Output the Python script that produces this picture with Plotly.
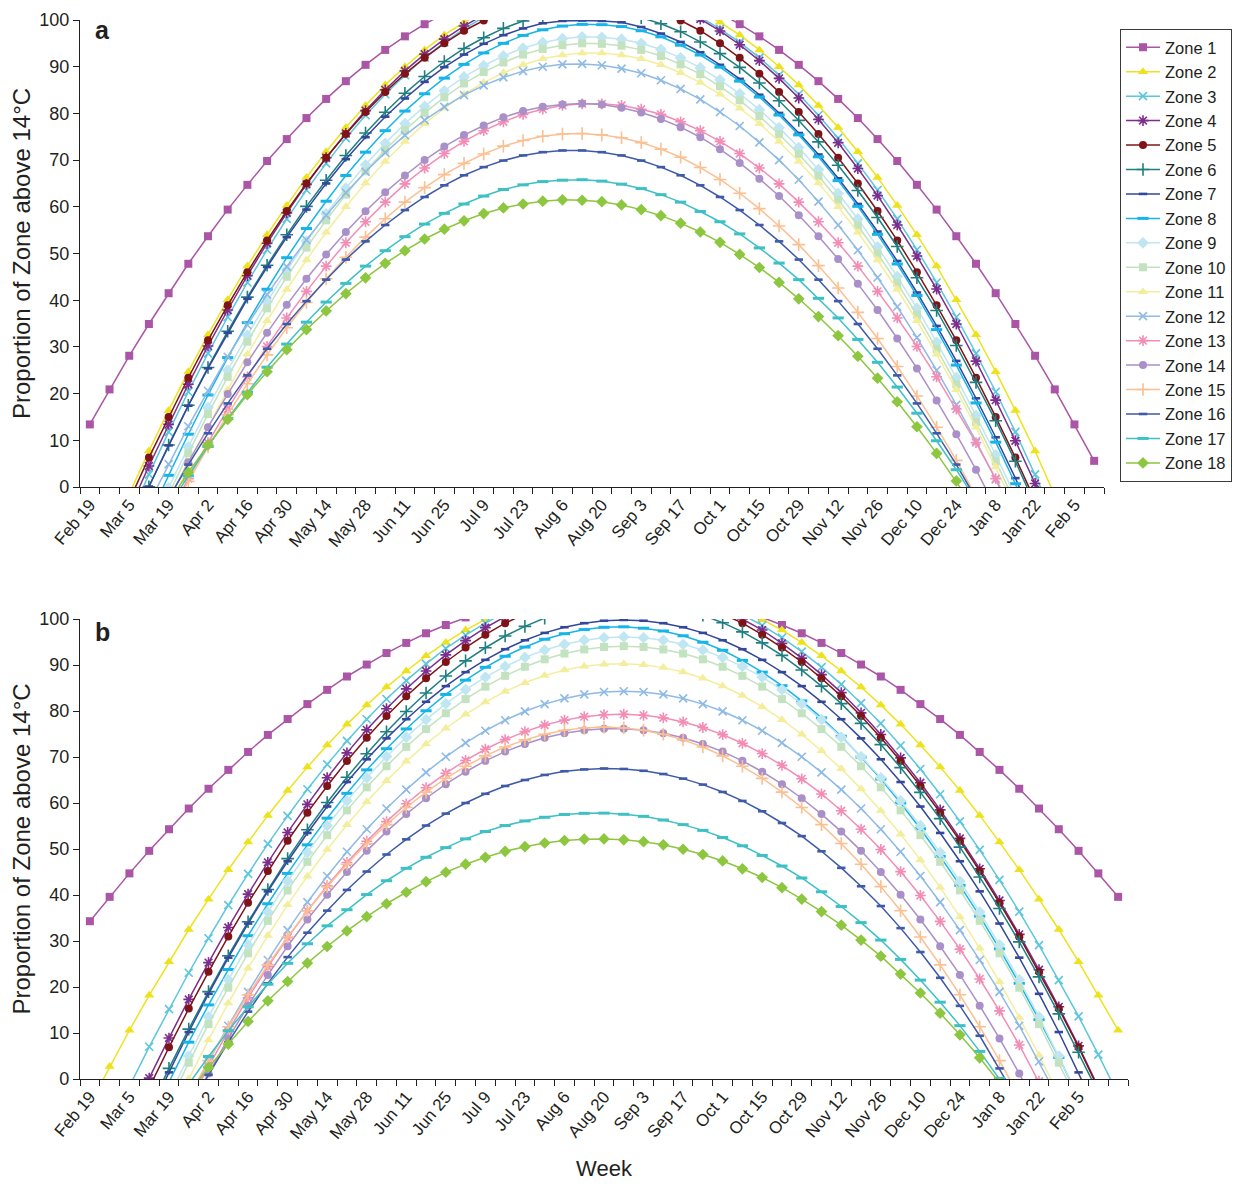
import plotly.graph_objects as go

WEEKS = ["Feb 19", "Feb 26", "Mar 5", "Mar 12", "Mar 19", "Mar 26", "Apr 2", "Apr 9", "Apr 16", "Apr 23",
         "Apr 30", "May 7", "May 14", "May 21", "May 28", "Jun 4", "Jun 11", "Jun 18", "Jun 25", "Jul 2",
         "Jul 9", "Jul 16", "Jul 23", "Jul 30", "Aug 6", "Aug 13", "Aug 20", "Aug 27", "Sep 3", "Sep 10",
         "Sep 17", "Sep 24", "Oct 1", "Oct 8", "Oct 15", "Oct 22", "Oct 29", "Nov 5", "Nov 12", "Nov 19",
         "Nov 26", "Dec 3", "Dec 10", "Dec 17", "Dec 24", "Jan 1", "Jan 8", "Jan 15", "Jan 22", "Jan 29",
         "Feb 5", "Feb 12", "Feb 19"]
TICK_LABELS = ["Feb 19", "Mar 5", "Mar 19", "Apr 2", "Apr 16", "Apr 30", "May 14", "May 28", "Jun 11",
               "Jun 25", "Jul 9", "Jul 23", "Aug 6", "Aug 20", "Sep 3", "Sep 17", "Oct 1", "Oct 15",
               "Oct 29", "Nov 12", "Nov 26", "Dec 10", "Dec 24", "Jan 8", "Jan 22", "Feb 5"]
ZONES = ["Zone 1", "Zone 2", "Zone 3", "Zone 4", "Zone 5", "Zone 6", "Zone 7", "Zone 8", "Zone 9",
         "Zone 10", "Zone 11", "Zone 12", "Zone 13", "Zone 14", "Zone 15", "Zone 16", "Zone 17", "Zone 18"]

N = None
# ---------------- Panel a (52 weeks) ----------------
A_Z1 = [13.4, 20.9, 28.1, 34.9, 41.5, 47.8, 53.7, 59.4, 64.7, 69.8, 74.5, 79.0, 83.1, 86.9, 90.4, 93.6, 96.5, 99.1,
        101.4, 103.4, 105.1, 106.5, 107.5, 108.3, 108.75, 108.9, 108.75, 108.3, 107.5, 106.5, 105.1, 103.4, 101.4,
        99.1, 96.5, 93.6, 90.4, 86.9, 83.1, 79.0, 74.5, 69.8, 64.7, 59.4, 53.7, 47.8, 41.5, 34.9, 28.1, 20.9, 13.4, 5.6]
A_Z2 = [-20.9, -11.0, -1.5, 7.7, 16.4, 24.7, 32.6, 40.1, 47.3, 54.0, 60.3, 66.3, 71.8, 77.0, 81.7, 86.1, 90.0, 93.6,
        96.8, 99.5, 101.9, 103.9, 105.5, 106.7, 107.45, 107.85, 107.85, 107.45, 106.7, 105.5, 103.9, 101.9, 99.5,
        96.8, 93.6, 90.0, 86.1, 81.7, 77.0, 71.8, 66.3, 60.3, 54.0, 47.3, 40.1, 32.6, 24.7, 16.4, 7.7, -1.5, -11.0, -20.9]
A_Z3 = [-26.9, -16.6, -6.7, 2.7, 11.8, 20.4, 28.6, 36.4, 43.8, 50.8, 57.4, 63.6, 69.3, 74.7, 79.6, 84.1, 88.2, 91.95,
        95.2, 98.1, 100.6, 102.6, 104.3, 105.5, 106.3, 106.75, 106.75, 106.3, 105.5, 104.3, 102.6, 100.6, 98.1, 95.2,
        91.95, 88.2, 84.1, 79.6, 74.7, 69.3, 63.6, 57.4, 50.8, 43.8, 36.4, 28.6, 20.4, 11.8, 2.7, -6.7, -16.6, -26.9]
A_Z4 = [-25.0, -14.7, -4.9, 4.5, 13.4, 22.0, 30.2, 37.9, 45.25, 52.2, 58.7, 64.8, 70.5, 75.7, 80.6, 85.05, 89.1, 92.7,
        95.9, 98.7, 101.1, 103.1, 104.7, 105.8, 106.55, 106.9, 106.8, 106.3, 105.4, 104.1, 102.35, 100.2, 97.65,
        94.7, 91.3, 87.5, 83.3, 78.7, 73.7, 68.2, 62.4, 56.1, 49.45, 42.4, 34.9, 26.95, 18.6, 9.9, 0.75, -8.8, -18.8, -29.2]
A_Z5 = [-22.5, -12.5, -2.9, 6.3, 15.0, 23.4, 31.4, 38.9, 46.0, 52.8, 59.1, 65.0, 70.5, 75.6, 80.3, 84.6, 88.5, 91.9,
        95.0, 97.7, 99.9, 101.7, 103.2, 104.2, 104.8, 105.0, 104.8, 104.2, 103.2, 101.7, 99.9, 97.7, 95.0, 91.9,
        88.5, 84.6, 80.3, 75.6, 70.5, 65.0, 59.1, 52.8, 46.0, 38.9, 31.4, 23.4, 15.0, 6.3, -2.9, -12.5, -22.5, -32.9]
A_Z6 = [-29.2, -19.05, -9.3, 0.06, 9.0, 17.5, 25.6, 33.35, 40.65, 47.5, 54.0, 60.1, 65.7, 71.0, 75.8, 80.25, 84.3,
        87.9, 91.1, 93.9, 96.2, 98.2, 99.8, 100.9, 101.65, 102.0, 101.9, 101.4, 100.5, 99.2, 97.5, 95.3, 92.8, 89.85,
        86.5, 82.7, 78.5, 73.9, 68.9, 63.5, 57.7, 51.5, 44.8, 37.8, 30.3, 22.4, 14.2, 5.5, -3.6, -13.15, -23.1, -33.4]
A_Z7 = [-28.95, -18.9, -9.2, 0.1, 8.9, 17.4, 25.4, 33.0, 40.3, 47.1, 53.5, 59.4, 65.0, 70.2, 74.9, 79.3, 83.2, 86.75,
        89.9, 92.6, 94.9, 96.75, 98.2, 99.3, 99.8, 99.9, 99.8, 99.5, 98.5, 97.1, 95.3, 93.1, 90.4, 87.4, 84.0, 80.1,
        75.8, 71.2, 66.1, 60.6, 54.7, 48.4, 41.65, 34.5, 27.0, 19.0, 10.65, 1.9, -7.3, -16.9, -26.9, -37.3]
A_Z8 = [-37.0, -26.5, -16.4, -6.8, 2.5, 11.3, 19.7, 27.7, 35.2, 42.35, 49.1, 55.35, 61.2, 66.7, 71.7, 76.3, 80.5, 84.2,
        87.55, 90.5, 92.95, 95.0, 96.7, 97.9, 98.7, 99.07, 99.0, 98.6, 97.7, 96.4, 94.6, 92.5, 89.9, 86.9, 83.5, 79.65,
        75.4, 70.7, 65.6, 60.1, 54.1, 47.75, 41.0, 33.7, 26.1, 18.0, 9.6, 0.7, -8.7, -18.4, -28.6, -39.2]
A_Z9 = [N, N, -19.1, -9.5, -0.2, 8.6, 17.0, 25.0, 32.5, 39.65, 46.4, 52.65, 58.5, 64.0, 69.0, 73.6, 77.8, 81.5, 84.85,
        87.8, 90.25, 92.3, 94.0, 95.2, 96.0, 96.4, 96.3, 95.9, 95.0, 93.7, 91.9, 89.8, 87.2, 84.2, 80.8, 76.95, 72.7,
        68.0, 62.9, 57.4, 51.4, 45.05, 38.3, 31.0, 23.4, 15.3, 6.9, -2.0, -11.4, N, N, N]
A_Z10 = [N, N, -20.5, -10.9, -1.6, 7.2, 15.6, 23.6, 31.1, 38.25, 45.0, 51.25, 57.1, 62.6, 67.6, 72.2, 76.4, 80.1, 83.45,
         86.4, 88.85, 90.9, 92.6, 93.8, 94.6, 95.0, 94.9, 94.5, 93.6, 92.3, 90.5, 88.4, 85.8, 82.8, 79.4, 75.55, 71.3,
         66.6, 61.5, 56.0, 50.0, 43.65, 36.9, 29.6, 22.0, 13.9, 5.5, -3.4, -12.8, N, N, N]
A_Z11 = [N, N, N, -13.8, -4.5, 4.3, 12.8, 20.8, 28.4, 35.6, 42.3, 48.6, 54.55, 60.0, 65.1, 69.7, 74.0, 77.8, 81.1, 84.1,
         86.6, 88.7, 90.4, 91.7, 92.5, 92.95, 92.95, 92.5, 91.7, 90.4, 88.7, 86.6, 84.1, 81.1, 77.8, 74.0, 69.7, 65.1,
         60.0, 54.55, 48.6, 42.3, 35.6, 28.4, 20.8, 12.8, 4.3, -4.5, -13.8, N, N, N]
A_Z12 = [-31.2, -21.6, -12.3, -3.5, 4.9, 13.0, 20.6, 27.9, 34.7, 41.2, 47.2, 52.9, 58.2, 63.0, 67.5, 71.6, 75.3, 78.55,
         81.4, 83.9, 86.0, 87.7, 89.05, 90.0, 90.5, 90.6, 90.3, 89.6, 88.6, 87.1, 85.25, 83.0, 80.3, 77.3, 73.8, 70.0,
         65.8, 61.1, 56.1, 50.7, 44.85, 38.6, 32.0, 25.0, 17.6, 9.8, 1.6, -7.0, -16.0, -25.4, -35.1, -45.3]
A_Z13 = [N, N, N, -14.6, -6.2, 1.8, 9.5, 16.7, 23.6, 30.1, 36.2, 41.9, 47.3, 52.3, 56.8, 61.0, 64.9, 68.3, 71.4, 74.0,
         76.3, 78.2, 79.8, 80.9, 81.7, 82.05, 82.05, 81.7, 80.9, 79.8, 78.2, 76.3, 74.0, 71.4, 68.3, 64.9, 61.0, 56.8,
         52.3, 47.3, 41.9, 36.2, 30.1, 23.6, 16.7, 9.5, 1.8, -6.2, -14.6, N, N, N]
A_Z14 = [N, N, N, -10.9, -2.6, 5.3, 12.8, 19.9, 26.7, 33.05, 39.0, 44.6, 49.8, 54.6, 59.05, 63.1, 66.7, 70.0, 72.9,
         75.35, 77.4, 79.15, 80.5, 81.4, 81.9, 82.1, 81.9, 81.2, 80.2, 78.8, 77.05, 74.9, 72.3, 69.4, 66.0, 62.3, 58.2,
         53.7, 48.8, 43.5, 37.9, 31.8, 25.4, 18.5, 11.3, 3.7, -4.3, -12.65, N, N, N, N]
A_Z15 = [N, N, N, N, -6.5, 1.2, 8.55, 15.5, 22.1, 28.3, 34.1, 39.5, 44.6, 49.2, 53.5, 57.45, 61.0, 64.1, 66.9, 69.3,
         71.3, 73.0, 74.2, 75.1, 75.6, 75.7, 75.4, 74.8, 73.75, 72.35, 70.6, 68.4, 65.85, 62.9, 59.6, 55.9, 51.9, 47.4,
         42.6, 37.4, 31.8, 25.8, 19.5, 12.8, 5.7, -1.8, -9.7, N, N, N, N, N]
A_Z16 = [N, N, N, -9.7, -2.3, 4.8, 11.5, 17.9, 23.9, 29.6, 34.9, 39.8, 44.4, 48.7, 52.6, 56.1, 59.3, 62.1, 64.6, 66.75,
         68.5, 69.9, 71.0, 71.7, 72.06, 72.06, 71.7, 71.0, 69.9, 68.5, 66.75, 64.6, 62.1, 59.3, 56.1, 52.6, 48.7, 44.4,
         39.8, 34.9, 29.6, 23.9, 17.9, 11.5, 4.8, -2.3, -9.7, N, N, N, N, N]
A_Z17 = [N, N, N, -11.2, -4.2, 2.4, 8.7, 14.7, 20.3, 25.65, 30.6, 35.3, 39.6, 43.6, 47.3, 50.6, 53.6, 56.3, 58.6, 60.6,
         62.3, 63.7, 64.7, 65.4, 65.7, 65.8, 65.5, 64.85, 63.9, 62.6, 61.0, 59.0, 56.8, 54.2, 51.2, 47.95, 44.4, 40.4,
         36.2, 31.6, 26.7, 21.4, 15.8, 9.9, 3.7, -2.9, -9.8, N, N, N, N, N]
A_Z18 = [N, N, N, -9.6, -3.1, 3.1, 9.0, 14.5, 19.8, 24.7, 29.4, 33.7, 37.7, 41.4, 44.8, 47.9, 50.6, 53.1, 55.2, 57.0,
         58.55, 59.75, 60.6, 61.2, 61.5, 61.4, 61.1, 60.4, 59.4, 58.1, 56.5, 54.6, 52.4, 49.8, 47.0, 43.8, 40.3, 36.5,
         32.4, 28.0, 23.3, 18.25, 12.9, 7.2, 1.3, -5.0, -11.6, N, N, N, N, N]

# ---------------- Panel b (53 weeks) ----------------
B_Z1 = [34.3, 39.6, 44.7, 49.6, 54.3, 58.8, 63.1, 67.2, 71.1, 74.8, 78.25, 81.5, 84.6, 87.5, 90.1, 92.6, 94.8, 96.9,
        98.7, 100.35, 101.8, 103.0, 104.0, 104.85, 105.5, 105.9, 106.07, 106.07, 105.9, 105.5, 104.85, 104.0, 103.0,
        101.8, 100.35, 98.7, 96.9, 94.8, 92.6, 90.1, 87.5, 84.6, 81.5, 78.25, 74.8, 71.1, 67.2, 63.1, 58.8, 54.3,
        49.6, 44.7, 39.6]
B_Z2 = [-5.5, 2.7, 10.6, 18.2, 25.5, 32.5, 39.1, 45.5, 51.5, 57.3, 62.7, 67.8, 72.6, 77.1, 81.3, 85.2, 88.7, 92.0, 94.9,
        97.6, 99.9, 101.9, 103.6, 105.0, 106.1, 106.9, 107.3, 107.5, 107.3, 106.9, 106.1, 105.0, 103.6, 101.9, 99.9,
        97.6, 94.9, 92.0, 88.7, 85.2, 81.3, 77.1, 72.6, 67.8, 62.7, 57.3, 51.5, 45.5, 39.1, 32.5, 25.5, 18.2, 10.6]
B_Z3 = [-19.9, -10.6, -1.6, 7.0, 15.2, 23.1, 30.6, 37.8, 44.6, 51.1, 57.2, 63.0, 68.4, 73.5, 78.2, 82.6, 86.6, 90.25,
        93.6, 96.5, 99.1, 101.4, 103.3, 104.8, 106.0, 106.9, 107.4, 107.5, 107.3, 106.7, 105.8, 104.5, 102.9, 100.95,
        98.6, 95.95, 92.9, 89.55, 85.8, 81.7, 77.3, 72.5, 67.4, 61.9, 56.0, 49.8, 43.3, 36.4, 29.1, 21.5, 13.6, 5.3, -3.4]
B_Z4 = [N, N, -8.9, 0.2, 8.9, 17.3, 25.3, 32.95, 40.2, 47.1, 53.6, 59.7, 65.5, 70.9, 75.9, 80.5, 84.8, 88.7, 92.2,
        95.3, 98.1, 100.5, 102.5, 104.2, 105.4, 106.3, 106.85, 107.0, 106.8, 106.2, 105.2, 103.9, 102.1, 100.0, 97.6,
        94.7, 91.5, 87.9, 84.0, 79.6, 74.9, 69.8, 64.4, 58.5, 52.3, 45.7, 38.8, 31.45, 23.75, 15.7, 7.2, -1.6, -10.8]
B_Z5 = [N, -20.6, -11.1, -1.9, 6.9, 15.3, 23.3, 31.0, 38.3, 45.2, 51.8, 57.9, 63.7, 69.15, 74.2, 78.9, 83.2, 87.1,
        90.65, 93.8, 96.6, 99.1, 101.1, 102.8, 104.1, 105.05, 105.6, 105.8, 105.6, 105.05, 104.1, 102.8, 101.1, 99.1,
        96.6, 93.8, 90.65, 87.1, 83.2, 78.9, 74.2, 69.15, 63.7, 57.9, 51.8, 45.2, 38.3, 31.0, 23.3, 15.3, 6.9, -1.9, -11.1]
B_Z6 = [N, N, -15.9, -6.6, 2.3, 10.85, 19.0, 26.8, 34.2, 41.2, 47.9, 54.2, 60.1, 65.6, 70.7, 75.5, 79.9, 83.9, 87.6,
        90.9, 93.75, 96.3, 98.4, 100.2, 101.6, 102.6, 103.2, 103.5, 103.4, 102.9, 102.0, 100.8, 99.2, 97.2, 94.8, 92.1,
        88.9, 85.4, 81.6, 77.3, 72.7, 67.7, 62.3, 56.6, 50.4, 43.9, 37.05, 29.8, 22.2, 14.15, 5.8, -3.0, -12.1]
B_Z7 = [N, N, N, -7.8, 1.44, 10.21, 18.52, 26.38, 33.8, 40.79, 47.34, 53.49, 59.23, 64.56, 69.5, 74.05, 78.21, 82.0,
        85.41, 88.45, 91.12, 93.43, 95.38, 96.98, 98.21, 99.09, 99.62, 99.8, 99.62, 99.09, 98.21, 96.98, 95.38, 93.43,
        91.12, 88.45, 85.41, 82.0, 78.21, 74.05, 69.5, 64.56, 59.23, 53.49, 47.34, 40.79, 33.8, 26.38, 18.52, 10.21,
        1.44, -7.8, N]
B_Z8 = [N, N, N, -9.3, -0.5, 8.0, 16.1, 23.8, 31.15, 38.1, 44.7, 50.9, 56.7, 62.1, 67.2, 71.8, 76.1, 80.05, 83.6, 86.7,
        89.5, 91.9, 93.9, 95.6, 96.8, 97.7, 98.2, 98.3, 98.0, 97.4, 96.35, 94.95, 93.2, 91.0, 88.45, 85.5, 82.2, 78.5,
        74.5, 70.0, 65.2, 60.0, 54.4, 48.4, 42.1, 35.4, 28.3, 20.8, 12.9, 4.7, -4.0, -13.0, N]
B_Z9 = [N, N, N, N, -4.01, 5.0, 13.52, 21.57, 29.15, 36.28, 42.98, 49.23, 55.07, 60.48, 65.49, 70.1, 74.32, 78.14,
        81.59, 84.66, 87.36, 89.69, 91.65, 93.26, 94.5, 95.39, 95.92, 96.1, 95.92, 95.39, 94.5, 93.26, 91.65, 89.69,
        87.36, 84.66, 81.59, 78.14, 74.32, 70.1, 65.49, 60.48, 55.07, 49.23, 42.98, 36.28, 29.15, 21.57, 13.52, 5.0,
        -4.01, N, N]
B_Z10 = [N, N, N, N, -5.27, 3.55, 11.93, 19.85, 27.33, 34.38, 41.0, 47.21, 53.0, 58.4, 63.4, 68.0, 72.22, 76.05,
         79.51, 82.59, 85.3, 87.64, 89.62, 91.24, 92.49, 93.38, 93.92, 94.1, 93.92, 93.38, 92.49, 91.24, 89.62, 87.64,
         85.3, 82.59, 79.51, 76.05, 72.22, 68.0, 63.4, 58.4, 53.0, 47.21, 41.0, 34.38, 27.33, 19.85, 11.93, 3.55,
         -5.27, N, N]
B_Z11 = [N, N, N, N, -8.97, 0.01, 8.5, 16.52, 24.08, 31.19, 37.86, 44.09, 49.9, 55.29, 60.28, 64.86, 69.05, 72.84,
         76.25, 79.29, 81.94, 84.23, 86.15, 87.7, 88.89, 89.72, 90.19, 90.29, 90.04, 89.43, 88.46, 87.12, 85.43, 83.36,
         80.93, 78.12, 74.93, 71.37, 67.42, 63.07, 58.33, 53.19, 47.63, 41.65, 35.24, 28.4, 21.12, 13.37, 5.17, -3.52,
         N, N, N]
B_Z12 = [N, N, N, N, N, -4.43, 3.8, 11.58, 18.93, 25.86, 32.35, 38.44, 44.12, 49.41, 54.3, 58.8, 62.92, 66.67, 70.05,
         73.06, 75.71, 78.0, 79.93, 81.5, 82.73, 83.6, 84.13, 84.3, 84.13, 83.6, 82.73, 81.5, 79.93, 78.0, 75.71, 73.06,
         70.05, 66.67, 62.92, 58.8, 54.3, 49.41, 44.12, 38.44, 32.35, 25.86, 18.93, 11.58, 3.8, -4.43, N, N, N]
B_Z13 = [N, N, N, N, N, -5.46, 2.73, 10.42, 17.63, 24.39, 30.7, 36.57, 42.02, 47.06, 51.7, 55.95, 59.83, 63.33, 66.47,
         69.25, 71.68, 73.77, 75.52, 76.94, 78.02, 78.77, 79.2, 79.29, 79.07, 78.51, 77.62, 76.41, 74.86, 72.98, 70.75,
         68.18, 65.26, 61.97, 58.32, 54.3, 49.89, 45.09, 39.89, 34.27, 28.23, 21.74, 14.8, 7.4, -0.49, -8.87, N, N, N]
B_Z14 = [N, N, N, N, N, -6.9, 1.19, 8.81, 15.95, 22.63, 28.87, 34.67, 40.05, 45.02, 49.6, 53.78, 57.59, 61.03, 64.09,
         66.8, 69.16, 71.17, 72.84, 74.17, 75.16, 75.83, 76.16, 76.16, 75.83, 75.16, 74.17, 72.84, 71.17, 69.16, 66.8,
         64.09, 61.03, 57.59, 53.78, 49.6, 45.02, 40.05, 34.67, 28.87, 22.63, 15.95, 8.81, 1.19, -6.9, N, N, N, N]
B_Z15 = [N, N, N, N, N, -3.82, 4.0, 11.36, 18.3, 24.8, 30.88, 36.56, 41.82, 46.7, 51.19, 55.29, 59.02, 62.37, 65.36,
         67.98, 70.25, 72.17, 73.73, 74.94, 75.81, 76.33, 76.5, 76.33, 75.81, 74.94, 73.73, 72.17, 70.25, 67.98, 65.36,
         62.37, 59.02, 55.29, 51.19, 46.7, 41.82, 36.56, 30.88, 24.8, 18.3, 11.36, 4.0, -3.82, N, N, N, N, N]
B_Z16 = [N, N, N, N, N, -6.8, 0.9, 8.0, 14.65, 20.8, 26.5, 31.8, 36.6, 41.1, 45.1, 48.8, 52.1, 55.1, 57.7, 60.0, 62.0,
         63.7, 65.0, 66.1, 66.9, 67.3, 67.5, 67.4, 67.0, 66.3, 65.3, 64.0, 62.4, 60.45, 58.2, 55.65, 52.8, 49.5, 45.9,
         41.9, 37.6, 32.8, 27.6, 22.0, 15.9, 9.4, 2.3, -5.2, N, N, N, N, N]
B_Z17 = [N, N, N, N, -7.4, -1.1, 4.9, 10.5, 15.7, 20.6, 25.15, 29.4, 33.3, 36.8, 40.1, 43.1, 45.8, 48.2, 50.3, 52.2,
         53.8, 55.1, 56.1, 56.9, 57.5, 57.75, 57.8, 57.55, 57.1, 56.3, 55.3, 54.05, 52.5, 50.7, 48.6, 46.3, 43.7, 40.7,
         37.5, 34.0, 30.2, 26.0, 21.5, 16.7, 11.6, 6.0, 0.15, -6.1, N, N, N, N, N]
B_Z18 = [N, N, N, N, N, -3.0, 2.5, 7.6, 12.5, 17.0, 21.2, 25.2, 28.8, 32.2, 35.3, 38.1, 40.6, 42.9, 44.95, 46.7, 48.2,
         49.5, 50.5, 51.3, 51.85, 52.14, 52.2, 52.0, 51.6, 50.9, 49.95, 48.8, 47.4, 45.7, 43.8, 41.6, 39.1, 36.4, 33.45,
         30.2, 26.7, 22.8, 18.7, 14.3, 9.6, 4.6, -0.8, N, N, N, N, N, N]

PANEL_A = [A_Z1, A_Z2, A_Z3, A_Z4, A_Z5, A_Z6, A_Z7, A_Z8, A_Z9, A_Z10, A_Z11, A_Z12, A_Z13, A_Z14, A_Z15, A_Z16,
           A_Z17, A_Z18]
PANEL_B = [B_Z1, B_Z2, B_Z3, B_Z4, B_Z5, B_Z6, B_Z7, B_Z8, B_Z9, B_Z10, B_Z11, B_Z12, B_Z13, B_Z14, B_Z15, B_Z16,
           B_Z17, B_Z18]
for k, s in enumerate(PANEL_A):
    assert len(s) == 52, ("A", k + 1, len(s))
for k, s in enumerate(PANEL_B):
    assert len(s) == 53, ("B", k + 1, len(s))

# ---------------- styles ----------------
STYLES = [
    dict(c="#AA55A5", s="square", z=8, w=0),
    dict(c="#EEE21E", s="triangle-up", z=9, w=0),
    dict(c="#5BC6DC", s="x-thin-open", z=8, w=1.6),
    dict(c="#7D2D8C", s="asterisk-open", z=9, w=1.6),
    dict(c="#7E1418", s="circle", z=8, w=0),
    dict(c="#1F7F80", s="cross-thin-open", z=9, w=1.6),
    dict(c="#33479B", s="line-ew-open", z=6, w=2.6),
    dict(c="#17B4E9", s="line-ew-open", z=8, w=3),
    dict(c="#BFE6F1", s="diamond", z=9, w=0),
    dict(c="#C3E2BF", s="square", z=8, w=0),
    dict(c="#F4EE9C", s="triangle-up", z=9, w=0),
    dict(c="#8EBAE5", s="x-thin-open", z=8, w=1.6),
    dict(c="#F28DB6", s="asterisk-open", z=9, w=1.6),
    dict(c="#AA90C8", s="circle", z=8, w=0),
    dict(c="#FBBF91", s="cross-thin-open", z=9, w=1.6),
    dict(c="#3E5AA8", s="line-ew-open", z=6, w=2.6),
    dict(c="#3EC0C4", s="line-ew-open", z=8, w=3),
    dict(c="#8DC63F", s="diamond", z=9, w=0),
]

fig = go.Figure()
for p, (panel, xa, ya) in enumerate([(PANEL_A, "x", "y"), (PANEL_B, "x2", "y2")]):
    for i, vals in enumerate(panel):
        st = STYLES[i]
        xs = list(range(len(vals)))
        fig.add_trace(go.Scatter(
            x=xs, y=vals, mode="lines+markers", name=ZONES[i],
            text=WEEKS[:len(vals)],
            line=dict(color=st["c"], width=1.5),
            marker=dict(symbol=st["s"], size=st["z"], color=st["c"],
                        line=dict(color=st["c"], width=st["w"])),
            showlegend=(p == 0), xaxis=xa, yaxis=ya, connectgaps=False,
        ))

W, H = 1239, 1184
INK = "#231f20"
FONT = "Liberation Sans, Arial, Helvetica, sans-serif"

def xax(domain, rng, anchor, title=None):
    d = dict(domain=domain, range=rng, anchor=anchor, automargin=False, showline=True, linecolor=INK,
             linewidth=1.3, showgrid=False, zeroline=False, tickmode="array", tickvals=list(range(0, 51, 2)),
             ticktext=TICK_LABELS, ticks="", tickangle=-50, tickfont=dict(size=17, color=INK),
             minor=dict(tickmode="array", tickvals=[v - 0.5 for v in range(int(rng[1] + 1.5))],
                        ticks="outside", ticklen=6, tickwidth=1.3, tickcolor=INK, showgrid=False))
    if title:
        d["title"] = dict(text=title, font=dict(size=22, color=INK), standoff=18)
    return d

def yax(domain, anchor):
    return dict(domain=domain, range=[0, 100], anchor=anchor, automargin=False, showline=True, linecolor=INK,
                linewidth=1.3, showgrid=False, zeroline=False, tick0=0, dtick=10, ticks="outside", ticklen=6,
                tickwidth=1.3, tickcolor=INK, tickfont=dict(size=18, color=INK),
                title=dict(text="Proportion of Zone above 14°C", font=dict(size=24, color=INK), standoff=1))

fig.update_layout(
    width=W, height=H, margin=dict(l=0, r=0, t=0, b=0, autoexpand=False),
    paper_bgcolor="white", plot_bgcolor="white",
    font=dict(family=FONT, color=INK),
    xaxis=xax([80 / W, 1104 / W], [-0.5, 51.5], "y"),
    yaxis=yax([1 - 487 / H, 1 - 20 / H], "x"),
    xaxis2=xax([80 / W, 1128 / W], [-0.5, 52.5], "y2", "Week"),
    yaxis2=yax([1 - 1079 / H, 1 - 619 / H], "x2"),
    legend=dict(x=1120 / W, y=1 - 29 / H, xanchor="left", yanchor="top", bordercolor="#3a3a3a",
                borderwidth=1, bgcolor="white", font=dict(size=16.5, color=INK), itemwidth=34,
                tracegroupgap=0),
    annotations=[
        dict(text="<b>a</b>", x=93 / W, y=1 - 30 / H, xref="paper", yref="paper", xanchor="left",
             yanchor="middle", showarrow=False, font=dict(size=25, color=INK)),
        dict(text="<b>b</b>", x=93 / W, y=1 - 632 / H, xref="paper", yref="paper", xanchor="left",
             yanchor="middle", showarrow=False, font=dict(size=25, color=INK)),
    ],
)

fig.write_html("out.html")
